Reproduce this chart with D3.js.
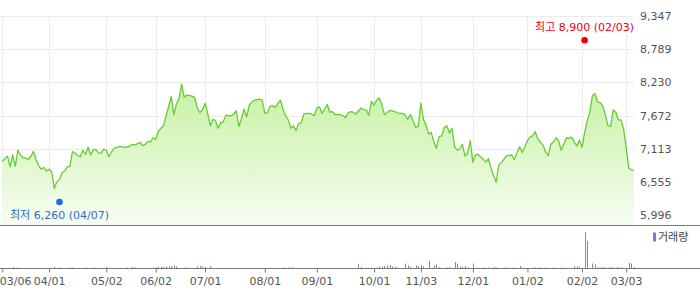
<!DOCTYPE html>
<html>
<head>
<meta charset="utf-8">
<script src="https://cdn.jsdelivr.net/npm/d3@7"></script>
<style>
  body { margin: 0; background: #fff; }
  svg { display: block; font-family: "DejaVu Sans", "Noto Sans CJK KR", sans-serif; }
</style>
</head>
<body>
<div id="chart"></div>
<script>
// closing prices, one per trading day (2025-03-06 .. 2026-03-06)
const prices = [
  6900, 6950, 6990, 6810, 7010, 6820, 7090, 7010, 6960, 6960,
  6930, 6990, 7070, 6930, 6830, 6770, 6800, 6740, 6770, 6730,
  6450, 6560, 6600, 6710, 6740, 6810, 6820, 7070, 7040, 7000,
  6980, 7090, 7020, 7140, 7010, 7100, 7100, 7040, 7040, 7110,
  7090, 6980, 7060, 7120, 7140, 7150, 7150, 7140, 7140, 7160,
  7190, 7180, 7200, 7220, 7170, 7190, 7240, 7230, 7300, 7270,
  7410, 7460, 7500, 7670, 7830, 7990, 7690, 7870, 7960, 8200,
  7980, 8020, 8010, 8000, 7980, 7800, 7720, 7770, 7880, 7710,
  7500, 7610, 7590, 7460, 7550, 7570, 7680, 7670, 7670, 7700,
  7750, 7490, 7620, 7780, 7650, 7850, 7900, 7930, 7940, 7950,
  7930, 7710, 7720, 7830, 7840, 7810, 7880, 7930, 7780, 7670,
  7600, 7460, 7500, 7420, 7540, 7550, 7700, 7710, 7710, 7700,
  7670, 7800, 7820, 7710, 7780, 7860, 7730, 7740, 7690, 7690,
  7690, 7670, 7640, 7720, 7740, 7730, 7700, 7750, 7800, 7770,
  7770, 7680, 7910, 7850, 7930, 7970, 7860, 7690, 7720, 7760,
  7750, 7740, 7720, 7710, 7710, 7680, 7610, 7690, 7580, 7480,
  7490, 7880, 7610, 7510, 7360, 7390, 7230, 7120, 7320, 7330,
  7470, 7500, 7380, 7460, 7150, 7090, 7110, 7190, 6990, 7040,
  7250, 6890, 7010, 7020, 6980, 6940, 6890, 6950, 6790, 6660,
  6550, 6850, 6880, 6940, 7000, 7000, 7010, 6930, 7050, 7150,
  7050, 7140, 7250, 7310, 7330, 7400, 7280, 7220, 7180, 7060,
  7000, 7190, 7230, 7300, 7250, 7090, 7190, 7300, 7290, 7310,
  7230, 7160, 7260, 7140, 7380, 7580, 7730, 8010, 8040, 7900,
  7890, 7830, 7680, 7500, 7490, 7770, 7730, 7600, 7600, 7450,
  7130, 6790, 6760, 6750
];

// volume (thousand shares)
const volumes = [
  3, 3, 3, 3, 15, 3, 10, 3, 3, 3,
  3, 3, 3, 3, 3, 3, 3, 3, 3, 3,
  15, 3, 10, 3, 3, 3, 10, 10, 3, 3,
  3, 3, 10, 3, 3, 10, 3, 3, 3, 3,
  15, 3, 3, 3, 3, 3, 3, 3, 10, 3,
  15, 10, 3, 3, 3, 3, 3, 3, 10, 12,
  15, 15, 15, 20, 20, 25, 30, 20, 3, 3,
  10, 10, 3, 3, 3, 20, 25, 20, 15, 3,
  25, 3, 3, 3, 3, 3, 3, 3, 3, 3,
  3, 3, 5, 3, 3, 3, 5, 3, 3, 3,
  3, 3, 3, 3, 3, 3, 3, 3, 10, 3,
  10, 10, 10, 3, 3, 3, 3, 3, 3, 3,
  3, 5, 3, 3, 3, 3, 3, 3, 3, 3,
  3, 3, 3, 3, 3, 5, 3, 43, 15, 3,
  3, 3, 10, 3, 10, 20, 20, 25, 33, 33,
  20, 15, 10, 3, 3, 50, 30, 15, 3, 30,
  25, 35, 20, 3, 77, 3, 30, 40, 15, 3,
  3, 10, 15, 3, 65, 50, 20, 15, 25, 15,
  3, 50, 3, 3, 3, 10, 3, 10, 3, 15,
  10, 3, 3, 10, 10, 3, 3, 10, 3, 25,
  3, 3, 3, 3, 10, 10, 10, 10, 3, 10,
  3, 3, 10, 3, 3, 10, 10, 3, 3, 3,
  25, 20, 15, 3, 363, 277, 3, 50, 40, 12,
  10, 12, 10, 10, 12, 10, 10, 12, 10, 3,
  3, 57, 50, 15
];

const tickLabels = ["03/06", "04/01", "05/02", "06/02", "07/01", "08/01", "09/01",
                    "10/01", "11/03", "12/01", "01/02", "02/02", "03/03"];
const tickIdx = [0, 18, 40, 59, 78, 101, 121, 143, 161, 181, 202, 223, 240];
const priceTicks = [5996, 6555, 7113, 7672, 8230, 8789, 9347];

const high = {idx: 224, value: 8900, label: "최고 8,900 (02/03)"};
const low = {idx: 22, value: 6260, label: "최저 6,260 (04/07)"};

const width = 700, height = 289;
const plotRight = 634;
const priceTop = 16, priceBottom = 215.3, panelBottom = 225.5;
const volBase = 268.5;

const svg = d3.select("#chart").append("svg")
    .attr("width", width)
    .attr("height", height);

const x = d3.scaleLinear()
    .domain([0, prices.length - 1])
    .range([2.3, plotRight]);

const y = d3.scaleLinear()
    .domain([priceTicks[0], priceTicks[priceTicks.length - 1]])
    .range([priceBottom, priceTop]);

const yVol = d3.scaleLinear()
    .domain([0, 420])
    .range([volBase, volBase - 42]);

// gradient for area
const defs = svg.append("defs");
const grad = defs.append("linearGradient")
    .attr("id", "areaFill")
    .attr("gradientUnits", "userSpaceOnUse")
    .attr("x1", 0).attr("x2", 0)
    .attr("y1", 84).attr("y2", panelBottom);
grad.append("stop").attr("offset", "0%").attr("stop-color", "#c6f1a2");
grad.append("stop").attr("offset", "100%").attr("stop-color", "#f8fdf4");

// horizontal grid
svg.append("g")
    .selectAll("line")
    .data(priceTicks)
    .enter().append("line")
    .attr("x1", 0).attr("x2", plotRight)
    .attr("y1", d => Math.round(y(d)) + 0.5)
    .attr("y2", d => Math.round(y(d)) + 0.5)
    .attr("stroke", "#ebebeb");

// vertical grid
svg.append("g")
    .selectAll("line")
    .data(tickIdx)
    .enter().append("line")
    .attr("x1", d => Math.round(x(d)) + 0.5)
    .attr("x2", d => Math.round(x(d)) + 0.5)
    .attr("y1", priceTop).attr("y2", panelBottom)
    .attr("stroke", "#ebebeb");

// area + line
const area = d3.area()
    .x((d, i) => x(i))
    .y0(panelBottom)
    .y1(d => y(d));

const line = d3.line()
    .x((d, i) => x(i))
    .y(d => y(d));

svg.append("path")
    .datum(prices)
    .attr("d", area)
    .attr("fill", "url(#areaFill)");

svg.append("path")
    .datum(prices)
    .attr("d", line)
    .attr("fill", "none")
    .attr("stroke", "#66cc33")
    .attr("stroke-width", 1.3)
    .attr("stroke-linejoin", "round");

// price labels on the right
const yAxis = g => g
    .attr("transform", `translate(640,0)`)
    .call(d3.axisRight(y).tickValues(priceTicks).tickSize(0).tickPadding(0).tickFormat(d3.format(",")))
    .call(g => g.select(".domain").remove())
    .call(g => g.selectAll("text")
        .attr("fill", "#555")
        .style("font-size", "11px")
        .style("font-family", "'DejaVu Sans', sans-serif"));
svg.append("g").call(yAxis);

// high / low markers
svg.append("circle")
    .attr("cx", x(high.idx)).attr("cy", y(high.value) - 2.4)
    .attr("r", 3.3).attr("fill", "#ee0000");
svg.append("text")
    .attr("x", x(high.idx)).attr("y", y(high.value) - 11.5)
    .attr("text-anchor", "middle")
    .attr("fill", "#e8001c")
    .style("font-size", "11px")
    .text(high.label);

svg.append("circle")
    .attr("cx", x(low.idx)).attr("cy", y(low.value) + 2.4)
    .attr("r", 3.3).attr("fill", "#1a6be0");
svg.append("text")
    .attr("x", x(low.idx)).attr("y", y(low.value) + 19.5)
    .attr("text-anchor", "middle")
    .attr("fill", "#2a6fc9")
    .style("font-size", "11px")
    .text(low.label);

// panel separator
svg.append("line")
    .attr("x1", 0).attr("x2", width)
    .attr("y1", panelBottom).attr("y2", panelBottom)
    .attr("stroke", "#7a7a7a");

// volume bars
svg.append("g")
    .selectAll("rect")
    .data(volumes)
    .enter().append("rect")
    .attr("x", (d, i) => Math.round(x(i)))
    .attr("y", d => yVol(d))
    .attr("width", 1)
    .attr("height", d => volBase - yVol(d))
    .attr("fill", "#9478d0");

// volume legend
svg.append("rect")
    .attr("x", 653).attr("y", 232.5)
    .attr("width", 3).attr("height", 9)
    .attr("fill", "#8e72c9");
svg.append("text")
    .attr("x", 658).attr("y", 241)
    .attr("fill", "#444")
    .style("font-size", "11px")
    .text("거래량");

// x axis
const xAxis = g => g
    .attr("transform", `translate(0,${volBase})`)
    .call(d3.axisBottom(x).tickValues(tickIdx).tickSize(4).tickPadding(5)
        .tickFormat((d, i) => tickLabels[i]))
    .call(g => g.select(".domain").remove())
    .call(g => g.selectAll(".tick line").attr("stroke", "#777"))
    .call(g => g.selectAll("text")
        .attr("fill", "#555")
        .style("font-size", "11px")
        .style("font-family", "'DejaVu Sans', sans-serif"))
    // first label sits just inside the left edge
    .call(g => g.selectAll(".tick text").filter((d, i) => i === 0)
        .attr("text-anchor", "start")
        .attr("x", -3));
svg.append("g").call(xAxis);

svg.append("line")
    .attr("x1", 0).attr("x2", width)
    .attr("y1", volBase).attr("y2", volBase)
    .attr("stroke", "#7a7a7a");
</script>
</body>
</html>
